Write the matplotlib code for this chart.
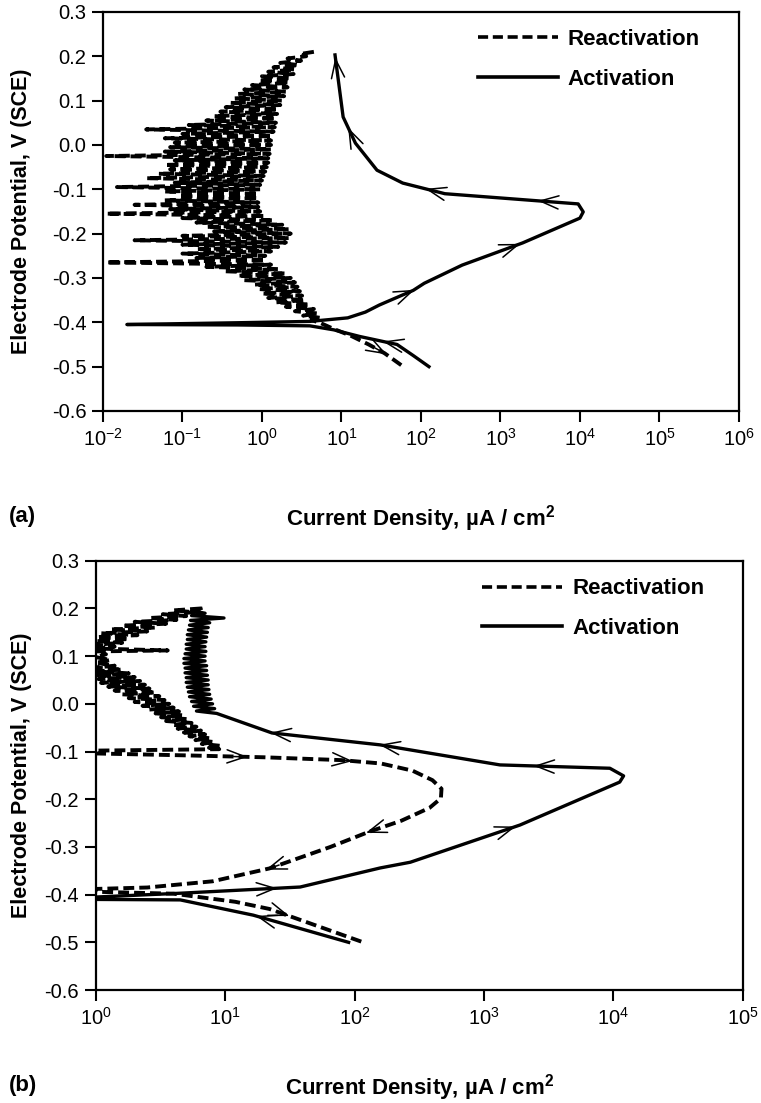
import numpy as np
import matplotlib
matplotlib.use("Agg")
import matplotlib.pyplot as plt
from matplotlib.ticker import FixedLocator, FormatStrFormatter, LogFormatterMathtext, NullLocator

plt.rcParams['font.family'] = ['Liberation Sans', 'DejaVu Sans']
plt.rcParams['mathtext.fontset'] = 'custom'
plt.rcParams['mathtext.rm'] = 'Liberation Sans'
plt.rcParams['mathtext.bf'] = 'Liberation Sans:bold'
plt.rcParams['axes.unicode_minus'] = False

# ---- panel (a) ----
# activation scan (solid), potential V vs current density uA/cm2
act_a_v = [-0.500, -0.475, -0.450, -0.432, -0.417, -0.408, -0.406, -0.405, -0.401, -0.398,
           -0.390, -0.377, -0.361, -0.328, -0.312, -0.271, -0.221, -0.165, -0.151, -0.133,
           -0.110, -0.086, -0.057, 0.004, 0.063, 0.203]
act_a_i = [126, 80, 50, 17, 8, 4, 0.5, 0.02, 0.5, 4,
           12, 20, 30, 80, 110, 330, 1900, 10000, 11000, 9500,
           200, 59, 28, 15, 10.5, 8.3]

# reactivation scan (dashed), very noisy between 0.2 and -0.39 V
reac_a_v = [0.210, 0.205, 0.200, 0.195, 0.190, 0.185, 0.180, 0.175, 0.170, 0.165,
            0.160, 0.155, 0.150, 0.145, 0.140, 0.135, 0.130, 0.125, 0.120, 0.115,
            0.110, 0.105, 0.100, 0.095, 0.090, 0.085, 0.080, 0.075, 0.070, 0.065,
            0.060, 0.055, 0.050, 0.045, 0.040, 0.035, 0.030, 0.025, 0.020, 0.015,
            0.010, 0.005, 0.000, -0.005, -0.010, -0.015, -0.020, -0.025, -0.030, -0.035,
            -0.040, -0.045, -0.050, -0.055, -0.060, -0.065, -0.070, -0.075, -0.080, -0.085,
            -0.090, -0.095, -0.100, -0.105, -0.110, -0.115, -0.120, -0.125, -0.130, -0.135,
            -0.140, -0.145, -0.150, -0.155, -0.160, -0.165, -0.170, -0.175, -0.180, -0.185,
            -0.190, -0.195, -0.200, -0.205, -0.210, -0.215, -0.220, -0.225, -0.230, -0.235,
            -0.240, -0.245, -0.250, -0.255, -0.260, -0.265, -0.270, -0.275, -0.280, -0.285,
            -0.290, -0.295, -0.300, -0.305, -0.310, -0.315, -0.320, -0.325, -0.330, -0.335,
            -0.340, -0.345, -0.350, -0.355, -0.360, -0.365, -0.370, -0.375, -0.380, -0.385,
            -0.390, -0.395,
            -0.402, -0.415, -0.430, -0.450, -0.470, -0.500]
reac_a_i = [4.5, 3.0, 3.6, 2.1, 3.1, 1.7, 2.9, 1.4, 2.6, 1.2,
            2.5, 1.0, 2.3, 0.9, 2.2, 0.75, 2.1, 0.6, 2.0, 0.5,
            1.9, 0.45, 1.8, 0.4, 1.7, 0.35, 1.6, 0.3, 1.55, 0.25,
            1.5, 0.2, 1.5, 0.12, 1.45, 0.035, 1.4, 0.1, 1.35, 0.06,
            1.3, 0.08, 1.3, 0.07, 1.3, 0.06, 1.25, 0.011, 1.2, 0.08,
            1.2, 0.06, 1.15, 0.07, 1.1, 0.05, 1.05, 0.035, 1.0, 0.08,
            0.95, 0.015, 0.95, 0.06, 0.9, 0.09, 0.9, 0.06, 0.9, 0.025,
            0.9, 0.07, 0.95, 0.011, 1.1, 0.1, 1.4, 0.15, 1.8, 0.2,
            2.2, 0.25, 2.3, 0.1, 2.2, 0.025, 2.0, 0.1, 1.6, 0.15,
            1.3, 0.1, 1.1, 0.15, 1.1, 0.011, 1.3, 0.2, 1.6, 0.35,
            2.0, 0.5, 2.3, 0.6, 2.6, 0.8, 2.8, 0.9, 3.0, 1.0,
            3.2, 1.2, 3.5, 1.5, 4.0, 2.0, 4.5, 2.6, 5.0, 3.3,
            5.5, 4.2,
            5.5, 8, 13, 22, 35, 60]

# ---- panel (b) ----
act_b_v = [-0.500, -0.443, -0.411, -0.410, -0.405, -0.397, -0.384, -0.344, -0.332, -0.254,
           -0.164, -0.151, -0.135, -0.128, -0.086, -0.061, -0.020, -0.015, -0.010, -0.005,
           0.000, 0.005, 0.010, 0.015, 0.020, 0.025, 0.030, 0.035, 0.040, 0.045,
           0.050, 0.055, 0.060, 0.065, 0.070, 0.075, 0.080, 0.085, 0.090, 0.095,
           0.100, 0.105, 0.110, 0.115, 0.120, 0.125, 0.130, 0.135, 0.140, 0.145,
           0.150, 0.155, 0.160, 0.165, 0.170, 0.175, 0.180, 0.185, 0.190, 0.195, 0.200]
act_b_i = [90, 16.5, 4.5, 1.0, 1.0, 4.5, 38, 158, 270, 1900,
           11200, 12000, 9400, 1330, 158, 23, 8.6, 6.0, 8.3, 5.7,
           8.0, 5.5, 7.8, 5.3, 7.6, 5.2, 7.5, 5.1, 7.4, 5.0,
           7.4, 5.0, 7.3, 4.9, 7.2, 4.9, 7.2, 4.8, 7.0, 4.8,
           7.0, 4.9, 7.1, 5.0, 7.0, 5.0, 7.1, 5.1, 7.2, 5.1,
           7.3, 5.2, 7.4, 5.3, 7.6, 5.4, 9.8, 5.5, 7.0, 5.6, 6.5]

reac_b_v = [0.200, 0.196, 0.192, 0.188, 0.184, 0.180, 0.176, 0.172, 0.168, 0.164,
            0.160, 0.156, 0.152, 0.148, 0.144, 0.140, 0.136, 0.132, 0.128, 0.124,
            0.120, 0.116, 0.112, 0.110, 0.104, 0.098, 0.092, 0.086, 0.080, 0.076,
            0.072, 0.068, 0.064, 0.060, 0.056, 0.052, 0.048, 0.044, 0.040, 0.036,
            0.032, 0.028, 0.024, 0.020, 0.016, 0.012, 0.008, 0.004, 0.000, -0.004,
            -0.008, -0.012, -0.016, -0.020, -0.024, -0.028, -0.032, -0.036, -0.040, -0.044,
            -0.048, -0.052, -0.056, -0.060, -0.064, -0.068, -0.072, -0.076, -0.080, -0.084,
            -0.088, -0.092, -0.095, -0.098, -0.104, -0.108, -0.112, -0.118, -0.125, -0.140,
            -0.160, -0.178, -0.198, -0.218, -0.245, -0.268, -0.300, -0.345, -0.372, -0.385,
            -0.388, -0.394, -0.398, -0.415, -0.430, -0.455, -0.500]
reac_b_i = [6.5, 4.0, 5.8, 3.3, 5.0, 2.6, 4.2, 2.0, 3.5, 1.6,
            2.9, 1.3, 2.5, 1.1, 2.1, 1.02, 1.8, 1.0, 1.6, 1.0,
            1.4, 1.0, 3.6, 1.0, 1.2, 1.0, 1.3, 1.0, 1.4, 1.0,
            1.6, 1.0, 1.8, 1.0, 2.0, 1.05, 2.2, 1.1, 2.4, 1.25,
            2.6, 1.4, 2.9, 1.6, 3.1, 1.8, 3.4, 2.0, 3.7, 2.3,
            4.0, 2.6, 4.4, 2.9, 4.7, 3.2, 5.1, 3.5, 5.5, 3.9,
            6.0, 4.3, 6.5, 4.8, 7.0, 5.3, 7.6, 5.9, 8.2, 6.6,
            9.2, 7.5, 9.0, 1.0, 1.0, 5.0, 20, 80, 160, 280,
            400, 470, 465, 380, 230, 130, 65, 22, 8, 2.5,
            1.0, 1.0, 4.0, 12, 22, 40, 117]

# where the scan-direction arrows sit: (segment index, fraction along it)
arrows_act_a = [(2, 0.2), (12, 0.85), (15, 0.85), (19, 0.25), (20, 0.3), (23, 0.35), (24, 0.85)]
arrows_reac_a = [(125, 0.75)]
arrows_act_b = [(0, 0.9), (5, 0.75), (8, 0.9), (12, 0.63), (13, 0.95), (14, 0.95)]
arrows_reac_b = [(75, 0.7), (77, 0.1), (84, 0.9), (86, 0.95), (94, 0.4)]

yticks = [-0.6, -0.5, -0.4, -0.3, -0.2, -0.1, 0.0, 0.1, 0.2, 0.3]
xticks_a = [1e-2, 1e-1, 1e0, 1e1, 1e2, 1e3, 1e4, 1e5, 1e6]
xticks_b = [1e0, 1e1, 1e2, 1e3, 1e4, 1e5]

xlab = r'Current Density, µA / cm$\mathbf{^2}$'
ylab = 'Electrode Potential, V (SCE)'


def add_arrow(ax, v, cur, k, t):
    p0 = ax.transData.transform((cur[k], v[k]))
    p1 = ax.transData.transform((cur[k + 1], v[k + 1]))
    d = (p1 - p0) / np.hypot(*(p1 - p0))
    mid = p0 + t * (p1 - p0)
    inv = ax.transData.inverted()
    tail = inv.transform(mid - 7 * d)
    head = inv.transform(mid + 7 * d)
    ax.annotate('', xy=head, xytext=tail,
                arrowprops=dict(arrowstyle='->,head_length=0.7,head_width=0.25',
                                lw=1.1, color='black', shrinkA=0, shrinkB=0,
                                mutation_scale=19))


def setup(ax, xticks, xlim):
    ax.set_xscale('log')
    ax.set_xlim(*xlim)
    ax.set_ylim(-0.6, 0.3)
    ax.xaxis.set_major_locator(FixedLocator(xticks))
    ax.xaxis.set_major_formatter(LogFormatterMathtext())
    ax.xaxis.set_minor_locator(NullLocator())
    ax.yaxis.set_major_locator(FixedLocator(yticks))
    ax.yaxis.set_major_formatter(FormatStrFormatter('%.1f'))
    for s in ax.spines.values():
        s.set_linewidth(1.6)
    ax.tick_params(direction='out', length=8, width=1.5, labelsize=14.5, pad=4)


fig = plt.figure(figsize=(7.61, 11.03), dpi=100)
ax1 = fig.add_axes([0.1353, 0.6274, 0.8357, 0.3618])
ax2 = fig.add_axes([0.1258, 0.1024, 0.8502, 0.3892])

panels = [
    (ax1, xticks_a, (1e-2, 1e6), act_a_v, act_a_i, reac_a_v, reac_a_i, arrows_act_a, arrows_reac_a),
    (ax2, xticks_b, (1e0, 1e5), act_b_v, act_b_i, reac_b_v, reac_b_i, arrows_act_b, arrows_reac_b),
]

for ax, xt, xl, av, ai, rv, ri, aa, ra in panels:
    setup(ax, xt, xl)
    ax.plot(ri, rv, color='black', lw=2.8, dashes=(2.8, 1.3), label='Reactivation')
    ax.plot(ai, av, color='black', lw=2.4, label='Activation')
    for k, t in aa:
        add_arrow(ax, av, ai, k, t)
    for k, t in ra:
        add_arrow(ax, rv, ri, k, t)
    ax.set_xlabel(xlab, fontsize=16, fontweight='bold')
    ax.set_ylabel(ylab, fontsize=15.5, fontweight='bold')

for ax, anchor in [(ax1, (0.572, 0.985)), (ax2, (0.58, 0.985))]:
    leg = ax.legend(loc='upper left', bbox_to_anchor=anchor, frameon=False,
                    handlelength=3.6, handletextpad=0.45, labelspacing=0.85, borderpad=0,
                    prop={'weight': 'bold', 'size': 16})
    for h in leg.get_lines():
        h.set_linewidth(2.6)

ax1.xaxis.set_label_coords(0.5, -0.232)
ax1.yaxis.set_label_coords(-0.112, 0.5)
ax2.xaxis.set_label_coords(0.5, -0.192)
ax2.yaxis.set_label_coords(-0.098, 0.5)

fig.text(0.012, 1 - 517 / 1103, '(a)', fontsize=16, fontweight='bold', va='center')
fig.text(0.012, 1 - 1085 / 1103, '(b)', fontsize=16, fontweight='bold', va='center')

fig.savefig('out.png', dpi=100)
